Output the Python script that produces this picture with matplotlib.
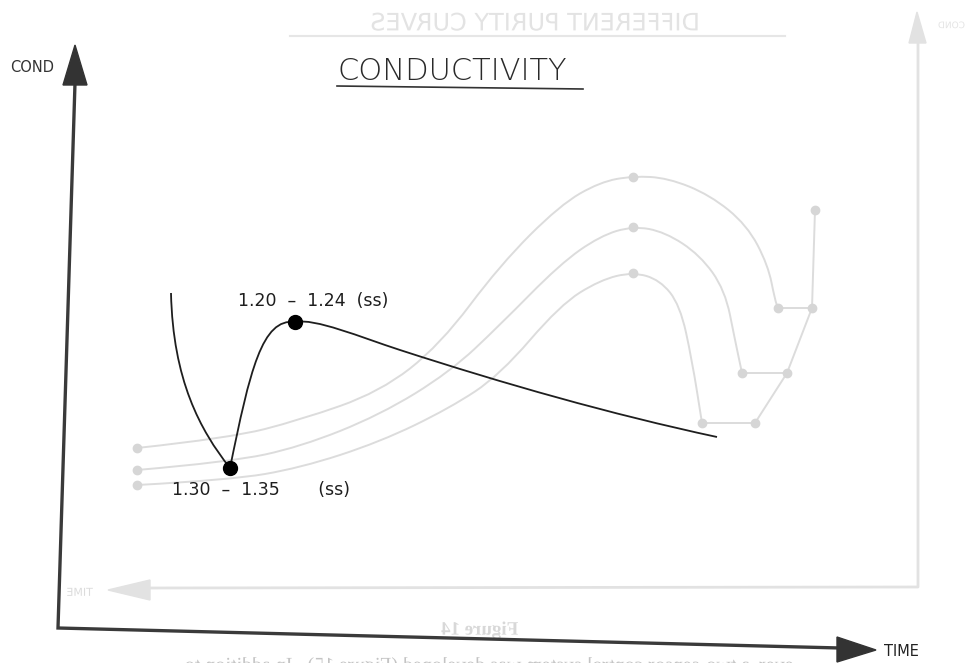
import numpy as np
import matplotlib
matplotlib.use('Agg')
import matplotlib.pyplot as plt
from matplotlib.path import Path
from matplotlib.patches import PathPatch, Polygon
from matplotlib.textpath import TextPath
from matplotlib.font_manager import FontProperties
from matplotlib.transforms import Affine2D

plt.rc('font', family='DejaVu Sans')

# sketch units: x grows to the right, y grows downwards
# main conductivity trace (Bezier vertices + codes)
trace_x = [171, 173, 200, 230, 250, 262, 295, 315, 360, 400, 505, 610, 717]
trace_y = [293, 380, 430, 468, 370, 318, 322, 318, 337, 350, 384, 414, 437]
trace_codes = [Path.MOVETO, Path.CURVE4, Path.CURVE4, Path.CURVE4,
               Path.CURVE4, Path.CURVE4, Path.CURVE4,
               Path.CURVE4, Path.CURVE4, Path.CURVE4,
               Path.CURVE4, Path.CURVE4, Path.CURVE4]

# steady state points
ss_x = [230, 295]
ss_y = [468, 322]
ss_labels = ['1.30  \u2013  1.35       (ss)', '1.20  \u2013  1.24  (ss)']
ss_label_x = [172, 238]
ss_label_y = [490, 301]

# faint purity curves showing through from the back of the sheet
purity_top_x = [137, 230, 300, 380, 440, 500, 560, 600, 633, 668, 710, 747, 768, 775, 778]
purity_top_y = [448, 438, 420, 392, 345, 265, 205, 182, 176, 178, 195, 225, 265, 300, 308]
purity_mid_x = [137, 230, 300, 380, 450, 500, 560, 600, 633, 665, 700, 725, 735, 742]
purity_mid_y = [470, 462, 447, 415, 372, 325, 264, 236, 226, 232, 255, 290, 340, 373]
purity_low_x = [137, 230, 300, 380, 450, 500, 560, 600, 633, 660, 680, 692, 702]
purity_low_y = [485, 480, 468, 442, 408, 375, 305, 280, 272, 280, 305, 360, 423]
purity_mark_x = [137, 137, 137, 633, 633, 633, 778, 742, 702]
purity_mark_y = [448, 470, 485, 177, 227, 273, 308, 373, 423]
step_x = [815, 812, 778, 812, 787, 742, 787, 755, 702, 755]
step_y = [210, 308, 308, 308, 373, 373, 373, 423, 423, 423]
joint_x = [815, 812, 787, 755]
joint_y = [210, 308, 373, 423]

ink = '#1e1e1e'
axis_ink = '#3a3a3a'
ghost = '#dcdcdc'

fig = plt.figure(figsize=(9.71, 6.63), dpi=100)
ax = fig.add_axes([0, 0, 1, 1])
ax.set_xlim(0, 971)
ax.set_ylim(663, 0)
ax.axis('off')


def smooth_path(xs, ys):
    # quadratic pieces: read points act as control points, joins at midpoints
    pts = np.column_stack([xs, ys]).astype(float)
    verts = [pts[0]]
    codes = [Path.MOVETO]
    for i in range(1, len(pts) - 1):
        verts += [pts[i], (pts[i] + pts[i + 1]) / 2]
        codes += [Path.CURVE3, Path.CURVE3]
    verts.append(pts[-1])
    codes.append(Path.LINETO)
    return Path(verts, codes)


def mirrored(ax, s, x, y, size, color, **kw):
    tp = TextPath((0, 0), s, size=size, prop=FontProperties(**kw))
    w = tp.get_extents().width
    tr = Affine2D().scale(-1, -1).translate(x + w / 2, y + size * 0.35)
    ax.add_patch(PathPatch(tr.transform_path(tp), fc=color, ec='none', zorder=0))


# ---- ghost figure ----
for xs, ys in [(purity_top_x, purity_top_y), (purity_mid_x, purity_mid_y),
               (purity_low_x, purity_low_y)]:
    ax.add_patch(PathPatch(smooth_path(xs, ys), fc='none', ec=ghost, lw=1.4, zorder=0))
ax.plot(step_x, step_y, color=ghost, lw=1.4, zorder=0)
ax.plot(purity_mark_x, purity_mark_y, 'o', ms=6, color='#d6d6d6', zorder=0)
ax.plot(joint_x, joint_y, 'o', ms=6, color='#d6d6d6', zorder=0)

# ghost frame
ax.plot([918, 918, 150], [42, 587, 588], color='#e2e2e2', lw=2, zorder=0)
ax.add_patch(Polygon([[917, 12], [909, 43], [926, 43]], color='#e2e2e2', zorder=0))
ax.add_patch(Polygon([[108, 590], [150, 580], [150, 600]], color='#e2e2e2', zorder=0))
mirrored(ax, 'TIME', 80, 592, 11, '#dcdcdc')
mirrored(ax, 'COND', 952, 25, 9, '#e4e4e4')
mirrored(ax, 'DIFFERENT PURITY CURVES', 537, 22, 24, '#e3e3e3')
ax.plot([290, 785], [36, 36], color='#e6e6e6', lw=1.5, zorder=0)
mirrored(ax, 'Figure 14', 480, 628, 19, '#d8d8d8', family='Liberation Serif', weight='bold')
mirrored(ax, 'ever, a two-sensor control system was developed (Figure 15).  In addition to',
         490, 664, 20, '#c4c4c4', family='Liberation Serif')

# ---- axes ----
ax.plot([75, 58, 840], [83, 628, 648], color=axis_ink, lw=2.4,
        solid_joinstyle='miter', zorder=2)
ax.add_patch(Polygon([[75, 45], [63, 85], [87, 85]], color='#333333', zorder=2))
ax.add_patch(Polygon([[876, 650], [837, 637], [837, 662]], color='#333333', zorder=2))
ax.text(10, 68, 'COND', fontsize=10.5, color='#333333', va='center', ha='left')
ax.text(884, 651, 'TIME', fontsize=10.5, color='#222222', va='center', ha='left')

# title
ax.text(337, 72, 'CONDUCTIVITY', fontsize=22, fontweight='light', color='#2a2a2a',
        va='center', ha='left')
ax.plot([337, 583], [86, 89], color='#333333', lw=1.2)

# ---- conductivity trace ----
trace = Path(np.column_stack([trace_x, trace_y]), trace_codes)
ax.add_patch(PathPatch(trace, fc='none', ec=ink, lw=1.3, zorder=3))
ax.plot(ss_x, ss_y, 'o', ms=10, color='black', zorder=4)
for lab, lx, ly in zip(ss_labels, ss_label_x, ss_label_y):
    ax.text(lx, ly, lab, fontsize=12.5, color=ink, va='center', ha='left')

fig.savefig('out.png', dpi=100)
